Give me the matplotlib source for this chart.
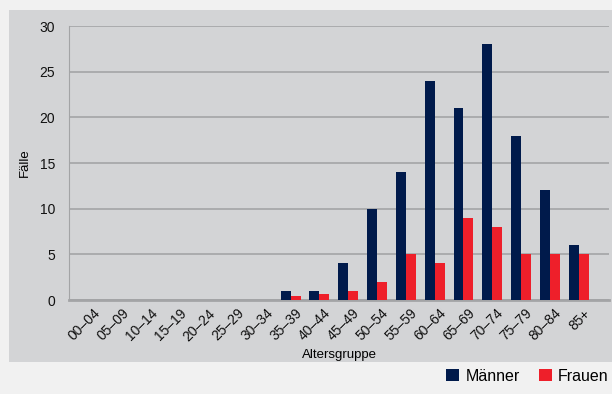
import matplotlib.pyplot as plt
import matplotlib.transforms as mtransforms
import numpy as np

plt.rcParams.update({'font.family': ['Liberation Sans', 'DejaVu Sans'], 'font.size': 9.5})

navy = '#001a4b'
red = '#ee1f2a'
panel = '#d3d4d6'
grid = '#a3a4a6'

age_groups = ['00–04', '05–09', '10–14', '15–19', '20–24', '25–29', '30–34', '35–39', '40–44',
              '45–49', '50–54', '55–59', '60–64', '65–69', '70–74', '75–79', '80–84', '85+']
maenner = [0, 0, 0, 0, 0, 0, 0, 1, 1, 4, 10, 14, 24, 21, 28, 18, 12, 6]
frauen = [0, 0, 0, 0, 0, 0, 0, 0.4, 0.7, 1, 2, 5, 4, 9, 8, 5, 5, 5]

fig = plt.figure(figsize=(6.12, 3.94), dpi=100)
fig.patch.set_facecolor('#f1f1f1')

# grey panel behind the chart
bg = fig.add_axes([9/612, 32/394, 603/612, 352/394], zorder=0)
bg.set_facecolor(panel)
bg.set_xticks([])
bg.set_yticks([])
for s in bg.spines.values():
    s.set_visible(False)

ax = fig.add_axes([69/612, 94/394, 540/612, 274/394], zorder=1)
ax.set_facecolor('none')

x = np.arange(len(age_groups))
w = 0.345
ax.bar(x - w/2, maenner, w, color=navy, label='Männer', zorder=3)
ax.bar(x + w/2, frauen, w, color=red, label='Frauen', zorder=3)

ax.set_xlim(-0.69, 18.05)
ax.set_ylim(0, 30)
ax.set_yticks(range(0, 31, 5))
ax.yaxis.grid(True, color=grid, linewidth=1.2, zorder=1)
ax.set_axisbelow(True)
for s in ['top', 'right']:
    ax.spines[s].set_visible(False)
ax.spines['left'].set_color(grid)
ax.spines['bottom'].set_color(grid)
ax.spines['bottom'].set_linewidth(2)
ax.tick_params(length=0, colors='#111111')
ax.tick_params(axis='y', pad=10, labelsize=10)
ax.set_xticks(x)
ax.set_xticklabels(age_groups, rotation=45, ha='right', va='center', rotation_mode='anchor',
                   fontsize=10)
ax.tick_params(axis='x', pad=8)
shift = mtransforms.ScaledTranslation(9/100, 0, fig.dpi_scale_trans)
for lbl in ax.get_xticklabels():
    lbl.set_transform(lbl.get_transform() + shift)

ax.set_ylabel('Fälle', fontsize=9.5, labelpad=6)
ax.set_xlabel('Altersgruppe', fontsize=9.5, labelpad=4)

fig.legend(loc='lower left', bbox_to_anchor=(432/612, -4/394), ncol=2, frameon=False,
           fontsize=11.5, handlelength=0.8, handleheight=0.8, handletextpad=0.4, columnspacing=1.2)

fig.savefig('out.png', dpi=100, facecolor=fig.get_facecolor())
